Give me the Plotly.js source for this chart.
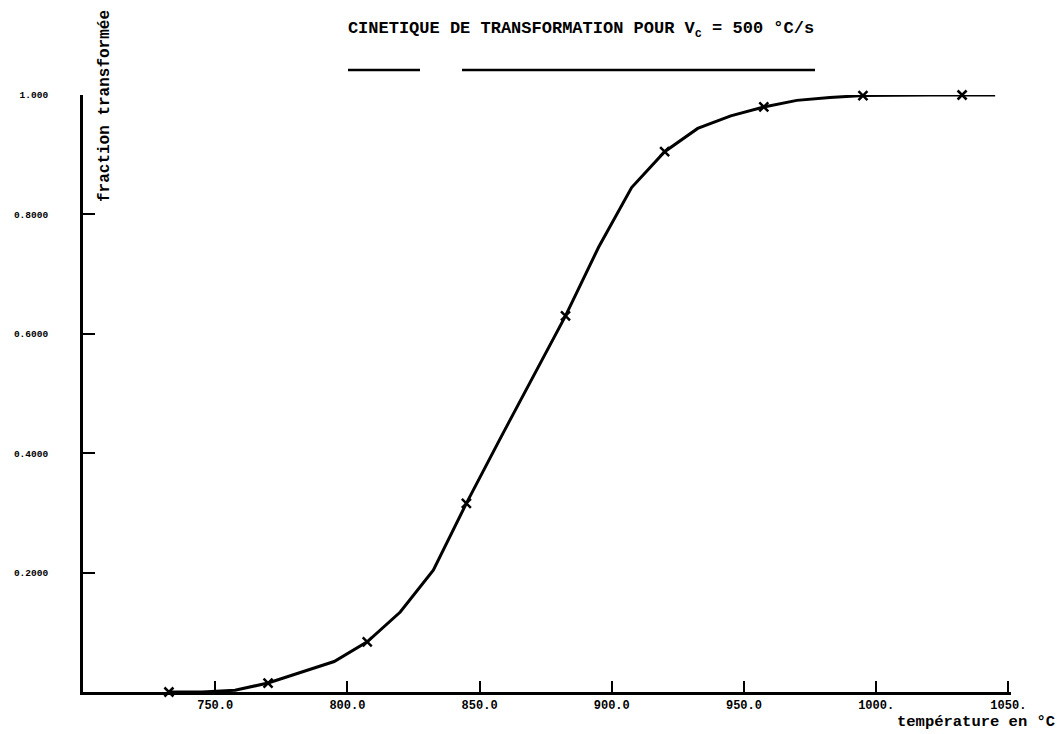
<!DOCTYPE html>
<html>
<head>
<meta charset="utf-8">
<script src="https://cdn.plot.ly/plotly-3.0.1.min.js"></script>
<style>html,body{margin:0;padding:0;background:#fff;}#chart{width:1063px;height:734px;}</style>
</head>
<body>
<div id="chart"></div>
<script>
// Temperature (°C) and transformed fraction
const temperatures = [732.5, 745, 757.5, 770, 782.5, 795, 807.5, 820, 832.5, 845, 857.5, 870, 882.5, 895, 907.5, 920, 932.5, 945, 957.5, 970, 982.5, 995, 1007.5, 1020, 1032.5, 1045];
const fractions    = [0.000, 0.000, 0.003, 0.015, 0.033, 0.051, 0.084, 0.134, 0.204, 0.316, 0.422, 0.526, 0.630, 0.745, 0.845, 0.905, 0.944, 0.965, 0.980, 0.991, 0.996, 0.999, 1.000, 1.000, 1.000, 1.000];
// every third point carries a cross marker
const markerEvery = 3;
const markerTemps = temperatures.filter((_, i) => i % markerEvery === 0);
const markerFracs = fractions.filter((_, i) => i % markerEvery === 0);

const xTickVals = [750, 800, 850, 900, 950, 1000, 1050];
const xTickText = ["750.0", "800.0", "850.0", "900.0", "950.0", "1000.", "1050."];
const yTickVals = [0.2, 0.4, 0.6, 0.8, 1.0];
const yTickText = ["0.2000", "0.4000", "0.6000", "0.8000", "1.000"];

const mono = "Liberation Mono, Courier New, monospace";

const traces = [
  {x: temperatures, y: fractions, mode: "lines", type: "scatter",
   line: {color: "#000", width: 3}, cliponaxis: false, hoverinfo: "skip"},
  {x: markerTemps, y: markerFracs, mode: "markers", type: "scatter",
   marker: {symbol: "x-thin", size: 9, line: {color: "#000", width: 2.5}, color: "#000"},
   cliponaxis: false, hoverinfo: "skip"}
];

const layout = {
  width: 1063, height: 734,
  margin: {l: 83, r: 52, t: 95, b: 42},
  paper_bgcolor: "#fff", plot_bgcolor: "#fff",
  showlegend: false,
  title: {
    text: "<b>CINETIQUE DE TRANSFORMATION POUR V<sub>c</sub> = 500 °C/s</b>",
    font: {family: mono, size: 17, color: "#000"},
    x: 581/1063, xanchor: "center", y: 1 - 27/734, yanchor: "middle"
  },
  xaxis: {
    range: [700, 1051], showgrid: false, zeroline: false,
    showline: true, linecolor: "#000", linewidth: 3,
    ticks: "inside", ticklen: 11, tickwidth: 2, tickcolor: "#000",
    tickvals: xTickVals, ticktext: xTickText,
    tickfont: {family: mono, size: 12, color: "#000", weight: "bold"}
  },
  yaxis: {
    range: [0, 1], showgrid: false, zeroline: false,
    showline: true, linecolor: "#000", linewidth: 3,
    ticks: "inside", ticklen: 12, tickwidth: 2, tickcolor: "#000",
    tickvals: yTickVals, ticktext: yTickText,
    ticklabelstandoff: 30,
    tickfont: {family: mono, size: 9.5, color: "#000", weight: "bold"}
  },
  annotations: [
    {text: "<b>fraction transformée</b>", xref: "paper", yref: "paper",
     x: (105-83)/928, y: (692-106)/597, xanchor: "center", yanchor: "middle",
     textangle: -90, showarrow: false, font: {family: mono, size: 16, color: "#000"}},
    {text: "<b>température en °C</b>", xref: "paper", yref: "paper",
     x: (976-83)/928, y: (692-722)/597, xanchor: "center", yanchor: "middle",
     showarrow: false, font: {family: mono, size: 15.5, color: "#000"}}
  ],
  shapes: [
    {type: "line", xref: "paper", yref: "paper", x0: (348-83)/928, x1: (420-83)/928,
     y0: (692-70)/597, y1: (692-70)/597, line: {color: "#000", width: 2.5}},
    {type: "line", xref: "paper", yref: "paper", x0: (462-83)/928, x1: (815-83)/928,
     y0: (692-70)/597, y1: (692-70)/597, line: {color: "#000", width: 2.5}}
  ]
};

Plotly.newPlot("chart", traces, layout, {displayModeBar: false, staticPlot: true});
</script>
</body>
</html>
